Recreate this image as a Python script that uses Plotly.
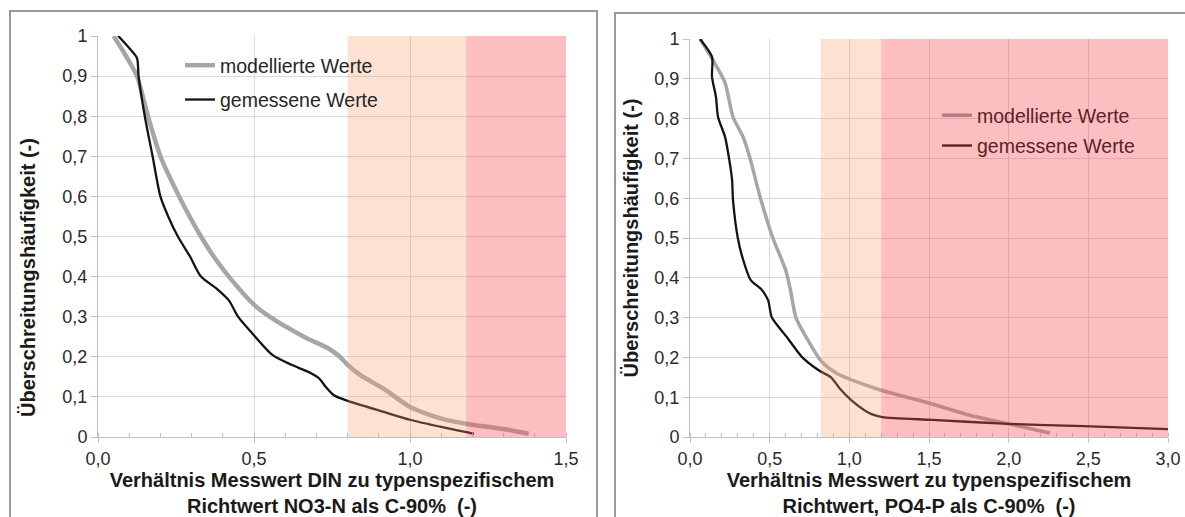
import plotly.graph_objects as go

# ---- data -------------------------------------------------------------
# left panel: DIN / NO3-N
din_mod_x = [0.05, 0.09, 0.125, 0.16, 0.20, 0.26, 0.33, 0.38, 0.43, 0.50, 0.55, 0.66,
             0.74, 0.775, 0.80, 0.84, 0.92, 1.00, 1.10, 1.19, 1.30, 1.38]
din_mod_y = [1.00, 0.95, 0.90, 0.80, 0.70, 0.60, 0.50, 0.44, 0.39, 0.33, 0.30, 0.25,
             0.22, 0.20, 0.18, 0.155, 0.118, 0.075, 0.046, 0.032, 0.020, 0.008]
din_mes_x = [0.065, 0.10, 0.125, 0.13, 0.15, 0.175, 0.20, 0.225, 0.256, 0.295, 0.33, 0.38,
             0.42, 0.449, 0.504, 0.56, 0.62, 0.68, 0.71, 0.73, 0.756, 0.80, 0.916, 1.00,
             1.10, 1.205]
din_mes_y = [1.00, 0.97, 0.945, 0.90, 0.80, 0.70, 0.60, 0.55, 0.50, 0.45, 0.40, 0.37,
             0.34, 0.30, 0.25, 0.204, 0.18, 0.16, 0.145, 0.125, 0.104, 0.09, 0.0625, 0.043,
             0.025, 0.008]

# right panel: PO4-P
po4_mod_x = [0.063, 0.144, 0.22, 0.27, 0.333, 0.377, 0.44, 0.52, 0.60, 0.63, 0.665, 0.73,
             0.825, 0.92, 1.18, 1.52, 1.76, 2.00, 2.26]
po4_mod_y = [1.00, 0.947, 0.89, 0.804, 0.754, 0.70, 0.603, 0.50, 0.42, 0.37, 0.30, 0.25,
             0.19, 0.16, 0.12, 0.083, 0.054, 0.033, 0.010]
po4_mes_x = [0.063, 0.138, 0.138, 0.163, 0.176, 0.22, 0.245, 0.264, 0.27, 0.30, 0.33, 0.38,
             0.45, 0.49, 0.514, 0.61, 0.705, 0.81, 0.885, 0.944, 1.04, 1.135, 1.207, 1.52,
             2.00, 2.47, 3.00]
po4_mes_y = [1.00, 0.955, 0.905, 0.854, 0.804, 0.754, 0.70, 0.646, 0.595, 0.50, 0.45, 0.395,
             0.37, 0.344, 0.30, 0.25, 0.20, 0.167, 0.15, 0.12, 0.083, 0.058, 0.05, 0.043,
             0.033, 0.0275, 0.02]

# assessment classes (ratio ranges)
din_bands = [(0.80, 1.18), (1.18, 1.50)]
po4_bands = [(0.82, 1.20), (1.20, 3.00)]

series_names = ["modellierte Werte", "gemessene Werte"]

y_ticks = [1.0, 0.9, 0.8, 0.7, 0.6, 0.5, 0.4, 0.3, 0.2, 0.1, 0.0]
y_ticktext = ["1", "0,9", "0,8", "0,7", "0,6", "0,5", "0,4", "0,3", "0,2", "0,1", "0"]
din_xticks = [0.0, 0.5, 1.0, 1.5]
din_xticktext = ["0,0", "0,5", "1,0", "1,5"]
po4_xticks = [0.0, 0.5, 1.0, 1.5, 2.0, 2.5, 3.0]
po4_xticktext = ["0,0", "0,5", "1,0", "1,5", "2,0", "2,5", "3,0"]

y_title = "Überschreitungshäufigkeit (-)"
din_xtitle = "Verhältnis Messwert DIN zu typenspezifischem<br>Richtwert NO3-N als C-90%  (-)"
po4_xtitle = "Verhältnis Messwert zu typenspezifischem<br>Richtwert, PO4-P als C-90%  (-)"

# ---- styling ----------------------------------------------------------
W, H = 1185, 517
FONT = "Liberation Sans, Arial, sans-serif"
GRAY_LINE = "#a6a6a6"
BLACK_LINE = "#141414"
PEACH = "rgba(248,160,110,0.30)"
RED = "rgba(250,80,90,0.37)"


def px_x(p):
    return p / W


def px_y(p):
    return 1 - p / H


fig = go.Figure()

# left panel curves
fig.add_trace(go.Scatter(x=din_mod_x, y=din_mod_y, name=series_names[0], mode="lines",
                         line=dict(color=GRAY_LINE, width=4.5, shape="spline", smoothing=0.7),
                         legend="legend", legendgroup="m", xaxis="x", yaxis="y"))
fig.add_trace(go.Scatter(x=din_mes_x, y=din_mes_y, name=series_names[1], mode="lines",
                         line=dict(color=BLACK_LINE, width=2.3, shape="spline", smoothing=0.7),
                         legend="legend", legendgroup="g", xaxis="x", yaxis="y"))

# right panel curves
fig.add_trace(go.Scatter(x=po4_mod_x, y=po4_mod_y, name=series_names[0], mode="lines",
                         line=dict(color=GRAY_LINE, width=3.5, shape="spline", smoothing=0.7),
                         showlegend=False, xaxis="x2", yaxis="y2"))
fig.add_trace(go.Scatter(x=po4_mes_x, y=po4_mes_y, name=series_names[1], mode="lines",
                         line=dict(color=BLACK_LINE, width=2.3, shape="spline", smoothing=0.7),
                         showlegend=False, xaxis="x2", yaxis="y2"))
# right legend sits inside the red class band, so its keys carry the tint
fig.add_trace(go.Scatter(x=[None], y=[None], name=series_names[0], mode="lines",
                         line=dict(color="#b07e80", width=3.5),
                         legend="legend2", legendgroup="m2", xaxis="x2", yaxis="y2"))
fig.add_trace(go.Scatter(x=[None], y=[None], name=series_names[1], mode="lines",
                         line=dict(color="#5a1a1e", width=2.3),
                         legend="legend2", legendgroup="g2", xaxis="x2", yaxis="y2"))

shapes = []
for (x0, x1), col in zip(din_bands, [PEACH, RED]):
    shapes.append(dict(type="rect", xref="x", yref="y", x0=x0, x1=x1, y0=0, y1=1,
                       fillcolor=col, line=dict(width=0), layer="above"))
for (x0, x1), col in zip(po4_bands, [PEACH, RED]):
    shapes.append(dict(type="rect", xref="x2", yref="y2", x0=x0, x1=x1, y0=0, y1=1,
                       fillcolor=col, line=dict(width=0), layer="above"))
# panel frames
shapes.append(dict(type="rect", xref="paper", yref="paper", x0=px_x(10), x1=px_x(597),
                   y0=-0.2, y1=px_y(11), line=dict(color="#9a9a9a", width=2),
                   fillcolor="rgba(0,0,0,0)", layer="below"))
shapes.append(dict(type="rect", xref="paper", yref="paper", x0=px_x(615), x1=1.2,
                   y0=-0.2, y1=px_y(13), line=dict(color="#9a9a9a", width=2),
                   fillcolor="rgba(0,0,0,0)", layer="below"))

tick_font = dict(family=FONT, size=18, color="#2a2a2a")
title_font = dict(family=FONT, size=20, color="#1a1a1a", weight="bold")

# left y title is placed by hand, lower than the centre of its axis
annotations = [dict(text=y_title, xref="paper", yref="paper", x=px_x(28), y=px_y(278),
                    xanchor="center", yanchor="middle", textangle=-90, showarrow=False,
                    font=title_font)]


def xaxis_cfg(domain, rng, tv, tt, title, anchor):
    return dict(domain=domain, range=rng, tickvals=tv, ticktext=tt, anchor=anchor,
                automargin=False,
                showgrid=True, gridcolor="#d9d9d9", gridwidth=1,
                showline=True, linecolor="#c0c0c0", linewidth=1,
                ticks="outside", ticklen=5, tickcolor="#c0c0c0",
                minor=dict(ticks="inside", dtick=0.1, ticklen=4, tickcolor="#c0c0c0",
                           showgrid=False),
                zeroline=False, tickfont=tick_font,
                title=dict(text=title, font=title_font, standoff=4))


def yaxis_cfg(domain, title, anchor, standoff):
    return dict(domain=domain, range=[0, 1], tickvals=y_ticks, ticktext=y_ticktext,
                anchor=anchor, automargin=False,
                showgrid=True, gridcolor="#d9d9d9", gridwidth=1,
                showline=True, linecolor="#c0c0c0", linewidth=1,
                ticks="outside", ticklen=6, tickcolor="#c0c0c0",
                zeroline=False, tickfont=tick_font,
                title=dict(text=title, font=title_font, standoff=standoff))


fig.update_layout(
    width=W, height=H,
    margin=dict(l=0, r=0, t=0, b=0, autoexpand=False),
    paper_bgcolor="white", plot_bgcolor="white",
    font=dict(family=FONT),
    separators=",.",
    xaxis=xaxis_cfg([px_x(98), px_x(566)], [0, 1.5], din_xticks, din_xticktext,
                    din_xtitle, "y"),
    yaxis=yaxis_cfg([px_y(437), px_y(36)], "", "x", 23),
    xaxis2=xaxis_cfg([px_x(690), px_x(1168)], [0, 3.0], po4_xticks, po4_xticktext,
                     po4_xtitle, "y2"),
    yaxis2=yaxis_cfg([px_y(437), px_y(39)], y_title, "x2", 10),
    legend=dict(x=px_x(180), y=px_y(46), xanchor="left", yanchor="top",
                bgcolor="rgba(0,0,0,0)", borderwidth=0, tracegroupgap=6,
                font=dict(family=FONT, size=19.5, color="#262626")),
    legend2=dict(x=px_x(937), y=px_y(96), xanchor="left", yanchor="top",
                 bgcolor="rgba(0,0,0,0)", borderwidth=0, tracegroupgap=2,
                 font=dict(family=FONT, size=19.5, color="#5a2224")),
    shapes=shapes,
    annotations=annotations,
    showlegend=True,
)

fig.write_html("out.html")
